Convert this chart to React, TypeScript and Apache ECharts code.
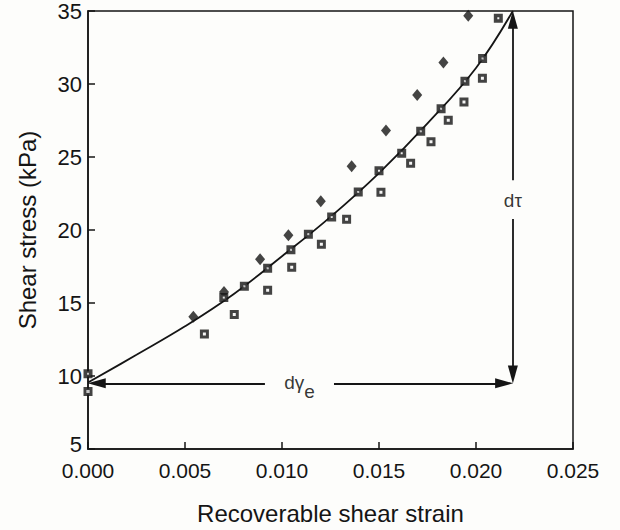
import React, { useEffect, useRef } from "react";
import * as echarts from "echarts";

// Axis ticks
const xTickValues = [0, 0.005, 0.01, 0.015, 0.02, 0.025];
const yTickValues = [5, 10, 15, 20, 25, 30, 35];

// Diamonds (upper points)
const diamondX = [0.00543, 0.00701, 0.00887, 0.01033, 0.012, 0.01359, 0.01536, 0.01697, 0.01832, 0.0196];
const diamondY = [14.06, 15.75, 18.0, 19.64, 21.97, 24.37, 26.81, 29.25, 31.47, 34.68];

// Squares lying on the curve
const onCurveX = [0, 0.007, 0.00806, 0.00926, 0.01046, 0.01136, 0.01256, 0.01393, 0.015, 0.01617, 0.01715, 0.0182, 0.01943, 0.02034, 0.02115];
const onCurveY = [10.15, 15.37, 16.14, 17.38, 18.65, 19.71, 20.89, 22.61, 24.06, 25.25, 26.77, 28.3, 30.18, 31.74, 34.5];

// Squares below the curve
const belowX = [0, 0.006, 0.00754, 0.00926, 0.0105, 0.01203, 0.01333, 0.0151, 0.01663, 0.01768, 0.01857, 0.01938, 0.02033];
const belowY = [8.93, 12.88, 14.22, 15.87, 17.45, 19.03, 20.73, 22.58, 24.57, 26.04, 27.52, 28.76, 30.39];

// Fitted curve
const curveX = [0, 0.0025, 0.005, 0.0075, 0.01, 0.0125, 0.015, 0.0175, 0.02, 0.0219];
const curveY = [9.55, 11.45, 13.4, 15.6, 18.2, 20.9, 23.9, 27.3, 31.1, 35];

// Annotation: d-tau (vertical) and d-gamma_e (horizontal) arrows
const arrowX = 0.0219;
const baseY = 9.5;
const tauGap = [20.75, 23.4]; // y range left open for the label
const gammaGap = [0.00912, 0.01268]; // x range left open for the label
const tauLabelPos = [0.0219, 22.05];
const gammaLabelPos = [0.0109, 9.5];

const zip = (xs: number[], ys: number[]) => xs.map((x, i) => [x, ys[i]]);

export default function App() {
  const ref = useRef<HTMLDivElement>(null);
  useEffect(() => {
    if (!ref.current) return;
    const chart = echarts.init(ref.current, undefined, { renderer: "svg" });
    const ink = "#151515";
    const font = "Liberation Sans";
    const halfArrowY = 0.6;
    const halfArrowX = 0.00045;
    chart.setOption({
      animation: false,
      backgroundColor: "#fdfdfb",
      textStyle: { fontFamily: font, color: ink },
      grid: {
        left: 88,
        right: 47,
        top: 8,
        bottom: 80,
        show: true,
        borderColor: ink,
        borderWidth: 1.5,
        backgroundColor: "transparent",
      },
      xAxis: {
        type: "value",
        min: xTickValues[0],
        max: xTickValues[xTickValues.length - 1],
        interval: 0.005,
        name: "Recoverable shear strain",
        nameLocation: "middle",
        nameGap: 52,
        nameTextStyle: { fontSize: 24, color: ink, fontFamily: font },
        axisLine: { lineStyle: { color: ink, width: 1.5 } },
        axisTick: { inside: true, length: 7, lineStyle: { color: ink, width: 1.5 } },
        axisLabel: {
          fontSize: 21,
          color: ink,
          fontFamily: font,
          margin: 11,
          formatter: (v: number) => v.toFixed(3),
        },
        splitLine: { show: false },
      },
      yAxis: {
        type: "value",
        min: yTickValues[0],
        max: yTickValues[yTickValues.length - 1],
        interval: 5,
        name: "Shear stress (kPa)",
        nameLocation: "middle",
        nameRotate: 90,
        nameGap: 49,
        nameTextStyle: { fontSize: 24, color: ink, fontFamily: font },
        axisLine: { lineStyle: { color: ink, width: 1.5 } },
        axisTick: { inside: true, length: 7, lineStyle: { color: ink, width: 1.5 } },
        axisLabel: {
          fontSize: 22,
          color: ink,
          fontFamily: font,
          margin: 6,
          formatter: (v: number) => (v === yTickValues[0] ? "{low|" + v + "}" : String(v)),
          rich: {
            low: { fontSize: 22, color: ink, fontFamily: font, padding: [0, 0, 9, 0] },
          },
        },
        splitLine: { show: false },
      },
      series: [
        {
          type: "line",
          data: zip(curveX, curveY),
          smooth: 0.4,
          showSymbol: false,
          symbol: "none",
          clip: false,
          lineStyle: { color: ink, width: 1.8 },
          z: 2,
          markLine: {
            silent: true,
            symbol: ["none", "triangle"],
            symbolSize: [10, 18],
            lineStyle: { color: ink, width: 1.8, type: "solid" },
            label: { show: false },
            data: [
              [{ coord: [arrowX, tauGap[1]] }, { coord: [arrowX, 35 - halfArrowY] }],
              [{ coord: [arrowX, tauGap[0]] }, { coord: [arrowX, baseY + halfArrowY] }],
              [{ coord: [gammaGap[0], baseY] }, { coord: [0 + halfArrowX, baseY] }],
              [{ coord: [gammaGap[1], baseY] }, { coord: [arrowX - halfArrowX, baseY] }],
            ],
          },
        },
        {
          type: "scatter",
          data: zip(diamondX, diamondY),
          symbol: "diamond",
          symbolSize: [10, 12],
          clip: false,
          itemStyle: { color: ink },
          z: 3,
        },
        {
          type: "scatter",
          data: zip(onCurveX, onCurveY),
          symbol: "rect",
          symbolSize: 5.5,
          clip: false,
          itemStyle: { color: "#eeeeee", borderColor: ink, borderWidth: 3.5 },
          z: 3,
        },
        {
          type: "scatter",
          data: zip(belowX, belowY),
          symbol: "rect",
          symbolSize: 6,
          clip: false,
          itemStyle: { color: "#f4f4f4", borderColor: ink, borderWidth: 3 },
          z: 3,
        },
        {
          type: "scatter",
          data: [tauLabelPos],
          symbolSize: 1,
          clip: false,
          itemStyle: { color: "rgba(0,0,0,0)" },
          label: {
            show: true,
            position: "inside",
            formatter: "dτ",
            fontSize: 19,
            color: "#000",
            textBorderWidth: 0,
            fontFamily: font,
          },
          z: 4,
        },
        {
          type: "scatter",
          data: [gammaLabelPos],
          symbolSize: 1,
          clip: false,
          itemStyle: { color: "rgba(0,0,0,0)" },
          label: {
            show: true,
            position: "inside",
            offset: [0, 4],
            formatter: "{a|dγ}{b|e}",
            textBorderWidth: 0,
            rich: {
              a: { fontSize: 19, color: "#000", fontFamily: font, verticalAlign: "top", lineHeight: 28, textBorderWidth: 0 },
              b: { fontSize: 19, color: "#000", fontFamily: font, verticalAlign: "bottom", lineHeight: 28, textBorderWidth: 0 },
            },
          },
          z: 4,
        },
      ],
    });
    return () => chart.dispose();
  }, []);
  return (
    <div
      ref={ref}
      style={{ position: "fixed", left: 0, top: 0, width: 620, height: 530 }}
    />
  );
}
